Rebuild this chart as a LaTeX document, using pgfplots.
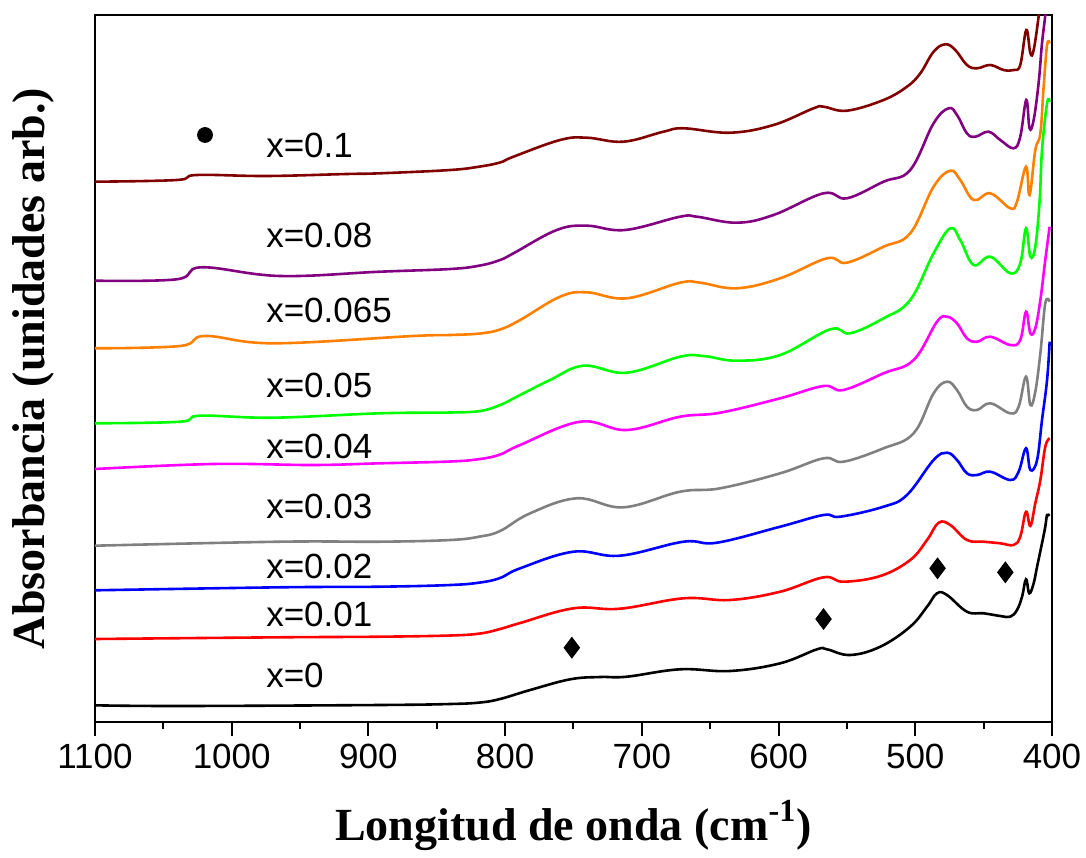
\documentclass[border=0pt]{standalone}
\usepackage{fontspec}
\setmainfont{Liberation Serif}
\newfontfamily\arial{Liberation Sans}
\usepackage{pgfplots}
\pgfplotsset{compat=1.18}
\definecolor{cbrown}{RGB}{128,0,0}
\definecolor{cpurple}{RGB}{128,0,128}
\definecolor{corange}{RGB}{255,128,0}
\definecolor{cgreen}{RGB}{0,255,0}
\definecolor{cmag}{RGB}{255,0,255}
\definecolor{cgray}{RGB}{128,128,128}
\begin{document}
\begin{tikzpicture}
\begin{axis}[
  scale only axis, width=478.5pt, height=353.5pt,
  xmin=400, xmax=1100, x dir=reverse, ymin=0, ymax=707,
  xtick={400,500,...,1100}, minor x tick num=1,
  ytick=\empty,
  xtick pos=bottom, tick align=outside,
  major tick length=7pt, minor tick length=3.5pt,
  line width=1.25pt,
  every tick/.style={black, line width=1pt},
  tick label style={font=\arial\fontsize{17.5}{18}\selectfont},
  /pgf/number format/assume math mode=true,
  xticklabel style={/pgf/number format/1000 sep={}},
  scaled x ticks=false,
  xlabel={\bfseries Longitud de onda (cm\textsuperscript{-1})},
  ylabel={\bfseries Absorbancia (unidades arb.)},
  xlabel style={font=\fontsize{23}{23}\selectfont, at={(axis description cs:0.5,0)}, anchor=base, yshift=-59pt},
  ylabel style={font=\fontsize{23}{23}\selectfont, at={(axis description cs:0,0.5)}, anchor=base, yshift=25pt},
  every axis plot/.append style={line width=1.3pt, smooth, tension=0.65},
]
% x=0
\addplot[black] coordinates {(1100,16.7)(1037.8,16)(891.5,17)(840,18)(818.3,19.5)(803.7,23)(781.7,32)(752.4,42.7)(730.5,45)(711,45.3)(672,52.7)(635.4,51)(598.8,58.7)(571.9,72.7)(564.6,72.7)(547.6,67)(525.6,75.3)(503.7,95.3)(491.4,115.3)(484.1,128.7)(476.8,127)(462.2,110.3)(450,108.7)(437.8,106)(430.5,105.3)(425.6,112)(421.9,125.3)(419,142.7)(416.6,128.7)(413.4,138.7)(410.9,155.3)(407.3,178.7)(404.9,195.3)(403.6,207)(401.9,206)};
% x=0.01
\addplot[red] coordinates {(1100,83)(964.6,84.7)(891.5,85.3)(840,86.5)(818.3,88.5)(803.7,93)(789,99)(750,113.7)(715.9,113.3)(669.5,123.7)(635.4,122)(598.8,130.3)(567.1,144.7)(552.5,140.3)(525.6,146)(503.7,162)(491.4,182)(482.9,199.3)(474.4,197)(462.2,182)(450,180.3)(437.8,178.7)(428.1,177)(423.2,185.3)(419,210.3)(415.8,196)(412.2,218.7)(408.5,242)(404.9,275.3)(401.7,283.7)};
% x=0.02
\addplot[blue] coordinates {(1100,131.7)(964.6,134.7)(891.5,135.3)(840,137)(818.3,139.5)(803.7,144)(789,153.7)(750,170.3)(715.9,166.3)(669.5,180.3)(645.1,179.3)(598.8,195.3)(567.1,207)(554.9,205.3)(523.2,215.3)(506.1,227)(486.6,262)(476.8,269.3)(469.5,262)(462.2,248.7)(454.8,247)(445.1,250.3)(430.5,242)(424.4,250.3)(419,273.7)(415.8,252)(410.9,262)(407.3,302)(403.6,342)(401.7,380.3)};
% x=0.03
\addplot[cgray] coordinates {(1100,176.3)(964.6,180.3)(891.5,180.3)(840,182)(818.3,185.5)(803.7,191)(781.7,208.7)(747.5,223.7)(713.4,214.7)(672,230.3)(642.7,233.7)(598.8,248.7)(567.1,263.7)(552.5,260.3)(523.2,273.7)(501.2,288.7)(486.6,328.7)(476.8,340.3)(469.5,332)(462.2,315.3)(454.8,312)(445.1,318.7)(430.5,308.7)(424.4,315.3)(419,345.3)(415.8,317)(412.2,330.3)(408.5,368.7)(404.9,418.7)(401.7,420.3)};
% x=0.04
\addplot[cmag] coordinates {(1100,253)(1013.4,258)(940.3,257)(891.5,258.7)(840,260.5)(818.3,263)(803.7,267.5)(789,277)(745.1,300.3)(711,292)(672,305.3)(642.7,309.3)(598.8,323.7)(567.1,336)(552.5,332)(523.2,348.7)(501.2,362)(484.1,400.3)(476.8,405.3)(469.5,398.7)(462.2,383.7)(454.8,380.3)(445.1,385.3)(430.5,377)(423.2,382)(419,410.3)(415.8,388.7)(412.2,393.7)(408.5,422)(404.9,462)(401.7,495.3)};
% x=0.05
\addplot[cgreen] coordinates {(1100,298.7)(1037.8,300.3)(1023.2,306.3)(969.5,304.3)(891.5,308.7)(840,309.5)(818.3,311)(803.7,317)(789,327)(767.1,342)(742.7,356.3)(711,349.3)(672,365.3)(654.9,366)(630.5,361.3)(598.8,367)(562.2,392.7)(547.6,388.7)(523.2,403.7)(503.7,422)(486.6,468.7)(474.4,493.7)(467.1,482)(457.3,457)(445.1,465.3)(430.5,448.7)(423.2,458.7)(419,493.7)(415.8,465.3)(412.2,475.3)(409,522)(407.3,572)(403.6,618.7)(401.7,620.3)};
% x=0.065
\addplot[corange] coordinates {(1100,373.7)(1037.8,376)(1019.5,386)(969.5,378.7)(867.1,386)(840,387)(818.3,388.5)(803.7,392.5)(789,402)(759.8,425.3)(740.2,429.7)(711,423.7)(672,439.3)(657.3,439.3)(630.5,433.7)(598.8,443.7)(564.6,463.7)(550,459.3)(523.2,475.3)(503.7,488.7)(486.6,535.3)(474.4,551.3)(467.1,542)(457.3,522)(445.1,528.7)(430.5,513.7)(425.6,520.3)(419,555.3)(416.4,527)(412.2,572)(408.5,588.7)(406.1,635.3)(403.6,677)(401.7,678.7)};
% x=0.08
\addplot[cpurple] coordinates {(1100,441.3)(1040.2,442.7)(1021.9,454.7)(964.6,446)(891.5,450.3)(840,453)(818.3,456.5)(803.7,462)(793.9,468.7)(762.2,492)(740.2,496.3)(712.2,492)(672,505.3)(659.7,505.3)(630.5,499.3)(603.7,507)(567.1,528.7)(550,523.7)(523.2,540.3)(503.7,552)(486.6,598.7)(475.6,613.7)(469.5,607)(462.2,588.7)(456.1,585.3)(446.4,590.3)(437.8,582)(428.1,573.7)(423.2,585.3)(418.8,622)(416.4,593.7)(413.4,602)(409.8,638.7)(407.3,678.7)(404.9,707)(403.5,732)};
% x=0.1
\addplot[cbrown] coordinates {(1100,540.3)(1040.2,542)(1025.6,547)(974.4,546)(915.8,548)(891.5,548.7)(840,552)(818.3,555.5)(803.7,559.5)(793.9,565.3)(759.8,582)(740.2,584.3)(713.4,580.3)(684.2,590.3)(669.5,593.7)(635.4,589.3)(603.7,597)(574.4,613.7)(567.1,615.3)(550,611.3)(523.2,622)(506.1,635.3)(496.3,648.7)(486.6,670.3)(478,677.7)(470.7,672)(462.2,657)(454.8,653.7)(445.1,657)(435.4,652)(428.1,652)(423.2,657)(418.8,692)(415.8,668.7)(413.4,672)(409.8,705.3)(407.8,732)};
% markers
\addplot[only marks, mark=diamond*, mark size=5.1pt, black, line width=0.5pt] coordinates {(751.2,74.3)(567.1,103)(483.7,153.7)(434.1,149.7)};
\addplot[only marks, mark=*, mark size=3.7pt, black, line width=0.5pt] coordinates {(1019.5,587)};
% labels
\begin{scope}[every node/.style={anchor=west, inner sep=0pt, font=\arial\fontsize{17.5}{18}\selectfont}]
\node at (axis cs:975.6,577) {x=0.1};
\node at (axis cs:975.6,486.5) {x=0.08};
\node at (axis cs:975.6,412) {x=0.065};
\node at (axis cs:975.6,337) {x=0.05};
\node at (axis cs:975.6,275.5) {x=0.04};
\node at (axis cs:975.6,215.5) {x=0.03};
\node at (axis cs:975.6,155.5) {x=0.02};
\node at (axis cs:975.6,108) {x=0.01};
\node at (axis cs:975.6,47) {x=0};
\end{scope}
\coordinate (BL) at (rel axis cs:0,0);
\coordinate (TR) at (rel axis cs:1,1);
\end{axis}
\pgfresetboundingbox
\path[use as bounding box] ([xshift=-47.5pt,yshift=-67.5pt]BL) rectangle ([xshift=17pt,yshift=7.5pt]TR);
\end{tikzpicture}
\end{document}
